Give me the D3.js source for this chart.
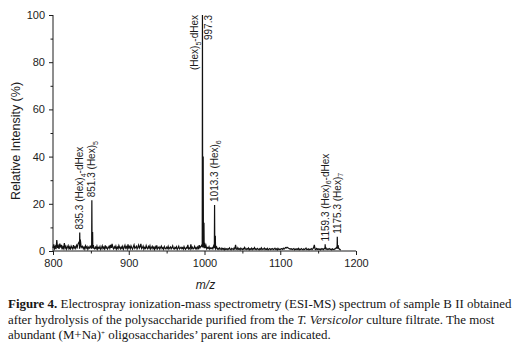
<!DOCTYPE html>
<html>
<head>
<meta charset="utf-8">
<script src="https://cdn.jsdelivr.net/npm/d3@7"></script>
<style>
  html, body { margin: 0; padding: 0; background: #fff; }
  svg { display: block; }
</style>
</head>
<body>
<svg id="chart" width="515" height="347"></svg>
<script>
// Background signal, one value per m/z unit from 800 to 1180 (relative intensity, %)
const noiseStart = 800;
const noise = [
  1.2, 2.8, 1.0, 1.9, 0.8, 4.6, 1.3, 2.2, 0.9, 3.1,
  1.5, 2.6, 0.7, 1.8, 1.1, 3.4, 1.2, 2.0, 0.8, 1.6,
  2.3, 1.0, 1.7, 0.6, 2.1, 1.4, 0.9, 2.5, 1.2, 1.8,
  1.1, 2.4, 1.6, 2.9, 3.6, 3.0, 4.0, 2.2, 1.5, 2.0,
  1.0, 1.7, 0.8, 2.2, 1.3, 1.9, 0.7, 1.6, 1.2, 2.0,
  1.4, 2.5, 3.0, 1.8, 1.1, 0.9, 1.6, 1.0, 2.1, 0.8,
  1.5, 1.1, 1.9, 0.7, 1.3, 2.2, 1.0, 1.6, 0.9, 2.4,
  1.2, 1.7, 0.8, 1.4, 2.0, 1.1, 2.6, 1.3, 3.0, 1.5,
  0.9, 1.8, 1.2, 2.1, 0.8, 1.6, 1.0, 2.3, 1.4, 0.9,
  1.7, 1.1, 2.0, 0.8, 1.5, 2.4, 1.2, 1.8, 0.9, 2.8,
  1.3, 1.9, 1.0, 2.2, 1.4, 0.8, 1.7, 2.6, 1.1, 1.5,
  2.0, 0.9, 1.6, 2.5, 1.2, 1.8, 3.0, 1.0, 1.4, 2.1,
  0.8, 1.5, 1.1, 2.3, 1.3, 0.9, 1.9, 1.2, 2.2, 0.8,
  1.4, 2.0, 1.0, 1.6, 0.7, 1.8, 1.1, 2.4, 0.9, 1.3,
  1.7, 0.8, 1.5, 2.1, 1.0, 1.4, 0.7, 1.9, 1.2, 0.9,
  1.6, 1.1, 2.0, 0.8, 1.3, 1.7, 0.9, 1.4, 2.2, 1.0,
  0.8, 1.5, 1.1, 1.8, 0.7, 1.3, 2.0, 0.9, 1.2, 1.6,
  1.0, 1.4, 0.8, 1.9, 1.1, 0.7, 1.5, 1.2, 2.6, 0.9,
  1.3, 0.8, 2.8, 1.1, 1.6, 0.9, 1.2, 2.0, 1.0, 1.4,
  0.8, 1.7, 1.1, 2.5, 1.3, 1.9, 2.2, 3.0, 5.0, 2.4,
  1.6, 1.2, 2.3, 0.9, 1.5, 1.1, 1.8, 0.8, 1.3, 1.0,
  1.4, 0.9, 2.1, 3.0, 2.6, 1.2, 1.8, 0.8, 1.1, 0.7,
  1.3, 0.9, 0.6, 1.2, 0.8, 1.0, 0.5, 1.1, 0.7, 0.9,
  0.6, 1.0, 0.7, 1.3, 0.8, 0.5, 1.1, 0.9, 0.6, 1.2,
  0.8, 2.6, 0.9, 0.6, 1.4, 0.7, 1.0, 0.5, 1.2, 0.8,
  0.6, 1.1, 0.7, 1.5, 0.9, 0.6, 1.0, 0.8, 1.3, 0.5,
  0.9, 0.7, 1.2, 0.6, 1.0, 0.8, 1.4, 0.7, 0.9, 0.6,
  1.1, 0.8, 0.5, 1.0, 0.7, 1.3, 0.6, 0.9, 0.8, 1.2,
  0.6, 0.9, 0.7, 1.1, 0.5, 0.8, 1.0, 0.6, 0.9, 0.7,
  1.0, 0.6, 0.8, 1.2, 0.7, 0.9, 0.5, 1.1, 0.7, 0.8,
  0.6, 0.9, 1.0, 0.7, 1.2, 0.8, 1.1, 1.5, 1.3, 1.6,
  1.4, 1.2, 0.9, 1.0, 0.7, 0.9, 0.6, 0.8, 1.0, 0.5,
  0.8, 0.6, 0.9, 0.7, 1.1, 0.5, 0.8, 0.6, 1.0, 0.7,
  0.5, 0.9, 0.6, 0.8, 1.2, 0.6, 0.7, 0.9, 0.5, 0.8,
  0.7, 1.0, 0.6, 0.9, 1.4, 2.6, 0.8, 0.6, 1.1, 0.7,
  0.9, 0.6, 0.8, 0.5, 1.0, 0.7, 0.9, 0.6, 1.1, 1.2,
  1.5, 0.8, 0.6, 0.9, 0.7, 1.0, 0.6, 0.8, 0.5, 0.9,
  0.7, 0.6, 0.9, 1.0, 1.4, 1.8, 2.2, 1.2, 0.8, 0.6,
  0.5
];

// Ion clusters: m/z and relative intensity (%)
const peakMz = [
  835.0, 835.3, 835.6, 836.3,
  851.0, 851.3, 851.6, 852.3, 852.6, 853.3,
  997.0, 997.3, 997.6, 998.3, 998.6, 999.3, 999.6, 1000.3,
  1013.0, 1013.3, 1013.6, 1014.3, 1014.6, 1015.3,
  1159.0, 1159.3, 1159.6,
  1175.0, 1175.3, 1175.6, 1176.3
];
const peakInt = [
  1.0, 7.8, 1.2, 4.2,
  1.0, 21.5, 1.5, 8.0, 1.2, 2.5,
  1.5, 100, 2.0, 40, 1.5, 12, 1.2, 3.5,
  1.2, 19.5, 1.5, 6.5, 1.0, 2.0,
  0.8, 2.8, 0.7,
  1.0, 6.0, 1.0, 2.5
];

// Annotated parent ions: m/z, hexose count, whether a deoxyhexose is present
const labelMz = [835.3, 851.3, 997.3, 1013.3, 1159.3, 1175.3];
const labelMzText = ["835.3", "851.3", "997.3", "1013.3", "1159.3", "1175.3"];
const labelHex = ["4", "5", "5", "6", "6", "7"];
const labelDHex = [true, false, true, false, true, false];

const xTicks = [800, 900, 1000, 1100, 1200];
const xMinorTicks = [850, 950, 1050, 1150];
const yTicks = [0, 20, 40, 60, 80, 100];
const yMinorTicks = [10, 30, 50, 70, 90];

const captionLines = [
  [{t: "Figure 4.", b: true}, {t: " Electrospray ionization-mass spectrometry (ESI-MS) spectrum of sample B II obtained"}],
  [{t: "after hydrolysis of the polysaccharide purified from the "}, {t: "T. Versicolor", i: true}, {t: " culture filtrate. The most"}],
  [{t: "abundant (M+Na)"}, {t: "+", sup: true}, {t: " oligosaccharides\u2019 parent ions are indicated.", afterSup: true}]
];

const svg = d3.select("#chart");
const sans = "'Liberation Sans', Arial, Helvetica, sans-serif";
const ink = "#1c1c1c";

const x = d3.scaleLinear().domain([800, 1200]).range([53, 356]);
const y = d3.scaleLinear().domain([0, 100]).range([251, 15]);

// Spectrum trace: background points merged with the ion clusters
const series = noise.map((v, i) => ({mz: noiseStart + i, v}))
  .concat(peakMz.map((m, i) => ({mz: m, v: peakInt[i]})))
  .sort((a, b) => a.mz - b.mz);

svg.append("path")
  .datum(series)
  .attr("fill", "none")
  .attr("stroke", "#111")
  .attr("stroke-width", 1.2)
  .attr("stroke-linejoin", "miter")
  .attr("d", d3.line().x(d => x(d.mz)).y(d => y(d.v)));

// Axes
function styleAxis(g) {
  g.select(".domain").attr("stroke", ink).attr("stroke-width", 1);
  g.selectAll(".tick line").attr("stroke", ink).attr("stroke-width", 1);
  g.selectAll(".tick text").attr("fill", ink).attr("font-family", sans).attr("font-size", 11);
}

const gx = svg.append("g").attr("transform", `translate(0,${y(0)})`)
  .call(d3.axisBottom(x).tickValues(xTicks).tickSize(4).tickPadding(4).tickFormat(d3.format("d")));
styleAxis(gx);
gx.select(".domain").attr("d", `M${x(800)},0H${x(1200)}`);

const gxm = svg.append("g").attr("transform", `translate(0,${y(0)})`)
  .call(d3.axisBottom(x).tickValues(xMinorTicks).tickSize(2.5).tickFormat(""));
gxm.select(".domain").remove();
gxm.selectAll(".tick line").attr("stroke", ink);

const gy = svg.append("g").attr("transform", `translate(${x(800)},0)`)
  .call(d3.axisLeft(y).tickValues(yTicks).tickSize(4).tickPadding(4));
styleAxis(gy);
gy.select(".domain").attr("d", `M0,${y(0)}V${y(100)}`);

const gym = svg.append("g").attr("transform", `translate(${x(800)},0)`)
  .call(d3.axisLeft(y).tickValues(yMinorTicks).tickSize(2.5).tickFormat(""));
gym.select(".domain").remove();
gym.selectAll(".tick line").attr("stroke", ink);

// Axis titles
svg.append("text")
  .attr("transform", `translate(20,${(y(0) + y(100)) / 2 + 8}) rotate(-90)`)
  .attr("text-anchor", "middle")
  .attr("font-family", sans).attr("font-size", 12.5).attr("fill", ink)
  .text("Relative Intensity (%)");

svg.append("text")
  .attr("x", x(1000) + 1).attr("y", 289)
  .attr("text-anchor", "middle")
  .attr("font-family", sans).attr("font-size", 12).attr("font-style", "italic").attr("fill", ink)
  .text("m/z");

// Peak annotations
function topAt(mz) {
  return d3.max(series.filter(d => Math.abs(d.mz - mz) < 0.05), d => d.v);
}

function ionName(sel, i) {
  sel.append("tspan").text("(Hex)");
  sel.append("tspan").attr("font-size", 7).attr("dy", 2.5).text(labelHex[i]);
  sel.append("tspan").attr("dy", -2.5).text(labelDHex[i] ? "-dHex" : "");
}

labelMz.forEach((mz, i) => {
  const px = x(mz);
  const top = y(topAt(mz));
  if (topAt(mz) >= 90) {
    // Base peak: name on the left of the line, m/z on the right, both ending at the top
    const t1 = svg.append("text")
      .attr("transform", `translate(${px - 4},${top}) rotate(-90)`)
      .attr("text-anchor", "end")
      .attr("font-family", sans).attr("font-size", 10).attr("fill", ink);
    ionName(t1, i);
    svg.append("text")
      .attr("transform", `translate(${px + 10},${top}) rotate(-90)`)
      .attr("text-anchor", "end")
      .attr("font-family", sans).attr("font-size", 10).attr("fill", ink)
      .text(labelMzText[i]);
  } else {
    const t = svg.append("text")
      .attr("transform", `translate(${px + 3.5},${top - 3}) rotate(-90)`)
      .attr("text-anchor", "start")
      .attr("font-family", sans).attr("font-size", 10).attr("fill", ink);
    t.append("tspan").text(labelMzText[i] + " ");
    ionName(t, i);
  }
});

// Figure caption
const serif = "'Liberation Serif', 'Times New Roman', serif";
const cap = svg.append("g");
captionLines.forEach((parts, li) => {
  const t = cap.append("text")
    .attr("x", 8).attr("y", 308.5 + li * 15.5)
    .attr("font-family", serif).attr("font-size", 13).attr("fill", "#161616");
  parts.forEach(p => {
    const s = t.append("tspan").text(p.t);
    if (p.b) s.attr("font-weight", "bold");
    if (p.i) s.attr("font-style", "italic");
    if (p.sup) s.attr("font-size", 7).attr("dy", -4.5);
    if (p.afterSup) s.attr("dy", 4.5);
  });
});
// fit the first line to the column width
const firstLen = cap.select("text").node().getComputedTextLength();
const k = 504 / firstLen;
cap.attr("transform", `translate(8,0) scale(${k},1) translate(-8,0)`);
</script>
</body>
</html>
